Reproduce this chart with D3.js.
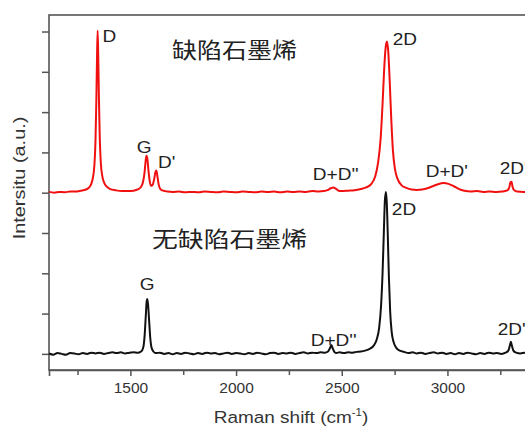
<!DOCTYPE html>
<html>
<head>
<meta charset="utf-8">
<script src="https://cdn.jsdelivr.net/npm/d3@7"></script>
<style>
  body { margin: 0; background: #fff; overflow: hidden; }
  svg { display: block; }
</style>
</head>
<body>
<div id="chart"></div>
<script>
// spectra: [Raman shift (cm-1), intensity (a.u.)]
const defectSpectrum = [
  [1115, 0.02], [1140, 0.0], [1165, 0.02], [1190, 0.01], [1215, 0.03], [1240, 0.03],
  [1265, 0.05], [1290, 0.08], [1305, 0.13], [1315, 0.22], [1323, 0.38], [1330, 0.7],
  [1335, 1.3], [1339, 2.3], [1342, 3.3], [1345, 4.02], [1348, 3.4], [1351, 2.4],
  [1355, 1.4], [1360, 0.75], [1367, 0.42], [1375, 0.26], [1388, 0.15], [1405, 0.09],
  [1430, 0.06], [1460, 0.04], [1490, 0.04], [1515, 0.05], [1535, 0.08], [1550, 0.14],
  [1560, 0.27], [1567, 0.5], [1572, 0.78], [1576, 0.92], [1580, 0.86], [1585, 0.58],
  [1591, 0.3], [1598, 0.17], [1606, 0.2], [1613, 0.35], [1619, 0.52], [1623, 0.55],
  [1628, 0.4], [1634, 0.2], [1642, 0.09], [1655, 0.05], [1675, 0.03], [1700, 0.02],
  [1730, 0.03], [1760, 0.01], [1790, 0.02], [1820, 0.01], [1850, 0.03], [1880, 0.02],
  [1910, 0.01], [1940, 0.03], [1970, 0.02], [2000, 0.01], [2030, 0.03], [2060, 0.02],
  [2090, 0.01], [2120, 0.03], [2150, 0.02], [2180, 0.03], [2210, 0.01], [2240, 0.03],
  [2270, 0.02], [2300, 0.03], [2330, 0.02], [2360, 0.04], [2390, 0.03], [2415, 0.04],
  [2435, 0.07], [2448, 0.11], [2460, 0.13], [2472, 0.1], [2485, 0.05], [2500, 0.04],
  [2530, 0.05], [2560, 0.06], [2590, 0.09], [2615, 0.13], [2640, 0.22], [2658, 0.4],
  [2672, 0.75], [2684, 1.35], [2693, 2.2], [2701, 3.1], [2708, 3.62], [2714, 3.75],
  [2720, 3.5], [2727, 2.75], [2734, 1.85], [2742, 1.05], [2752, 0.58], [2765, 0.33],
  [2782, 0.19], [2805, 0.12], [2830, 0.08], [2855, 0.07], [2880, 0.08], [2905, 0.11],
  [2930, 0.16], [2955, 0.21], [2980, 0.24], [3005, 0.22], [3030, 0.16], [3055, 0.09],
  [3080, 0.05], [3110, 0.03], [3140, 0.04], [3170, 0.02], [3200, 0.03], [3230, 0.02],
  [3260, 0.03], [3280, 0.05], [3292, 0.12], [3298, 0.26], [3303, 0.27], [3308, 0.15],
  [3316, 0.06], [3330, 0.03], [3360, 0.02], [3400, 0.02]
];

const cleanSpectrum = [
  [1115, 0.01], [1135, -0.02], [1155, 0.02], [1175, 0.0], [1195, -0.02], [1215, 0.02],
  [1235, 0.01], [1255, -0.01], [1275, 0.02], [1295, 0.0], [1315, 0.03], [1335, 0.01],
  [1355, 0.03], [1375, 0.0], [1395, 0.02], [1415, 0.04], [1435, 0.02], [1455, 0.04],
  [1475, 0.01], [1495, 0.03], [1515, 0.04], [1535, 0.03], [1548, 0.05], [1556, 0.09],
  [1563, 0.22], [1568, 0.5], [1573, 0.95], [1577, 1.3], [1580, 1.36], [1584, 1.2],
  [1589, 0.8], [1594, 0.4], [1600, 0.16], [1609, 0.06], [1620, 0.02], [1640, 0.03],
  [1660, 0.0], [1680, 0.02], [1700, -0.01], [1720, 0.02], [1740, 0.0], [1760, 0.03],
  [1780, 0.01], [1800, -0.01], [1820, 0.02], [1840, 0.0], [1860, 0.03], [1880, 0.01],
  [1900, 0.02], [1920, -0.01], [1940, 0.01], [1960, 0.03], [1980, 0.0], [2000, 0.02],
  [2020, 0.01], [2040, -0.01], [2060, 0.02], [2080, 0.0], [2100, 0.03], [2120, 0.01],
  [2140, -0.01], [2160, 0.02], [2180, 0.03], [2200, 0.0], [2220, 0.02], [2240, 0.01],
  [2260, 0.03], [2280, 0.0], [2300, 0.02], [2320, 0.04], [2340, 0.01], [2360, 0.03],
  [2380, 0.02], [2400, 0.04], [2420, 0.03], [2435, 0.06], [2444, 0.14], [2451, 0.22],
  [2457, 0.14], [2465, 0.05], [2475, 0.02], [2490, 0.04], [2510, 0.02], [2530, 0.04],
  [2550, 0.03], [2570, 0.05], [2590, 0.06], [2610, 0.08], [2630, 0.12], [2650, 0.2],
  [2665, 0.35], [2677, 0.65], [2686, 1.2], [2693, 2.0], [2699, 3.0], [2704, 3.8],
  [2709, 4.02], [2713, 3.75], [2718, 2.9], [2723, 1.9], [2729, 1.05], [2736, 0.55],
  [2746, 0.28], [2758, 0.15], [2775, 0.08], [2795, 0.05], [2815, 0.02], [2835, 0.04],
  [2855, 0.01], [2875, 0.03], [2895, 0.0], [2915, 0.02], [2935, 0.04], [2955, 0.01],
  [2975, 0.03], [2995, 0.0], [3015, 0.02], [3035, -0.01], [3055, 0.02], [3075, 0.0],
  [3095, 0.03], [3115, 0.01], [3135, -0.01], [3155, 0.02], [3175, 0.0], [3195, 0.03],
  [3215, 0.01], [3235, 0.02], [3255, 0.0], [3275, 0.03], [3288, 0.08], [3295, 0.2],
  [3300, 0.3], [3305, 0.2], [3312, 0.08], [3325, 0.03], [3345, 0.01], [3365, 0.03],
  [3385, 0.01], [3400, 0.02]
];

const defectOffset = 4;       // red trace is stacked above the black one
const xTicks = [1500, 2000, 2500, 3000];
const xMinorTicks = [1250, 1750, 2250, 2750, 3250];
const yTicks = [0, 1, 2, 3, 4, 5, 6, 7, 8];

// peak labels: [text, shift at label's left edge, intensity at label baseline]
const defectLabels = [
  ["D", 1368, 3.74], ["G", 1530, 0.99], ["D'", 1631, 0.61], ["D+D''", 2363, 0.32],
  ["2D", 2741, 3.67], ["D+D'", 2897, 0.39], ["2D'", 3247, 0.46]
];
const cleanLabels = [
  ["G", 1544, 1.59], ["2D", 2737, 3.45], ["D+D''", 2353, 0.2], ["2D'", 3238, 0.47]
];

const width = 525, height = 432;
const svg = d3.select("#chart").append("svg")
  .attr("width", width)
  .attr("height", height);

const x = d3.scaleLinear().domain([1115, 3400]).range([49, 532]);
const y = d3.scaleLinear().domain([-0.4, 8.41]).range([370, 15]);

const axisColor = "#555";
const font = "'Liberation Sans', Arial, sans-serif";

// frame
svg.append("rect")
  .attr("x", x.range()[0]).attr("y", y.range()[1])
  .attr("width", x.range()[1] - x.range()[0])
  .attr("height", y.range()[0] - y.range()[1])
  .attr("fill", "none")
  .attr("stroke", axisColor)
  .attr("stroke-width", 1.6);

// x axis
const xAxis = svg.append("g")
  .attr("transform", `translate(0,${y.range()[0]})`)
  .call(d3.axisBottom(x).tickValues(xTicks).tickSize(6).tickPadding(6).tickFormat(d3.format("d")));
svg.append("g")
  .attr("transform", `translate(0,${y.range()[0]})`)
  .call(d3.axisBottom(x).tickValues(xMinorTicks).tickSize(5).tickFormat(""))
  .call(g => g.select(".domain").remove());

// y axis (no labels)
svg.append("g")
  .attr("transform", `translate(${x.range()[0]},0)`)
  .call(d3.axisLeft(y).tickValues(yTicks).tickSize(7).tickFormat(""))
  .call(g => g.select(".domain").remove());

svg.selectAll(".tick line").attr("stroke", axisColor).attr("stroke-width", 1.5);
xAxis.select(".domain").attr("stroke", axisColor).attr("stroke-width", 1.6);
xAxis.selectAll(".tick text")
  .attr("font-family", font)
  .attr("font-size", 15.5)
  .attr("fill", "#333");

// spectra
const line = offset => d3.line()
  .x(d => x(d[0]))
  .y(d => y(d[1] + offset))
  .curve(d3.curveMonotoneX);

svg.append("path")
  .datum(cleanSpectrum)
  .attr("d", line(0))
  .attr("fill", "none")
  .attr("stroke", "#111")
  .attr("stroke-width", 2);

svg.append("path")
  .datum(defectSpectrum)
  .attr("d", line(defectOffset))
  .attr("fill", "none")
  .attr("stroke", "#f01010")
  .attr("stroke-width", 2);

// peak labels (the source picture is slightly stretched sideways)
function peakLabels(list, offset) {
  svg.append("g").selectAll("text")
    .data(list)
    .join("text")
    .attr("transform", d => `translate(${x(d[1])},${y(d[2] + offset)}) scale(1.12,1)`)
    .attr("font-family", font)
    .attr("font-size", 17)
    .attr("fill", "#222")
    .text(d => d[0]);
}
peakLabels(defectLabels, defectOffset);
peakLabels(cleanLabels, 0);

// sample names
const cjk = "'Noto Sans CJK SC', sans-serif";
svg.append("text")
  .attr("x", 172).attr("y", 48)
  .attr("dominant-baseline", "central")
  .attr("font-family", cjk)
  .attr("font-size", 22)
  .attr("textLength", 125)
  .attr("lengthAdjust", "spacingAndGlyphs")
  .attr("fill", "#222")
  .text("缺陷石墨烯");

svg.append("text")
  .attr("x", 152).attr("y", 237)
  .attr("dominant-baseline", "central")
  .attr("font-family", cjk)
  .attr("font-size", 22)
  .attr("textLength", 155)
  .attr("lengthAdjust", "spacingAndGlyphs")
  .attr("fill", "#222")
  .text("无缺陷石墨烯");

// axis titles
const xTitle = svg.append("text")
  .attr("transform", "translate(291,423) scale(1.15,1)")
  .attr("text-anchor", "middle")
  .attr("font-family", font)
  .attr("font-size", 16.5)
  .attr("fill", "#333");
xTitle.append("tspan").text("Raman shift (cm");
xTitle.append("tspan").attr("dy", -7).attr("font-size", 10).text("-1");
xTitle.append("tspan").attr("dy", 7).text(")");

svg.append("text")
  .attr("transform", "translate(25,178) rotate(-90) scale(1.17,1)")
  .attr("text-anchor", "middle")
  .attr("font-family", font)
  .attr("font-size", 17)
  .attr("fill", "#333")
  .text("Intersitu (a.u.)");
</script>
</body>
</html>
